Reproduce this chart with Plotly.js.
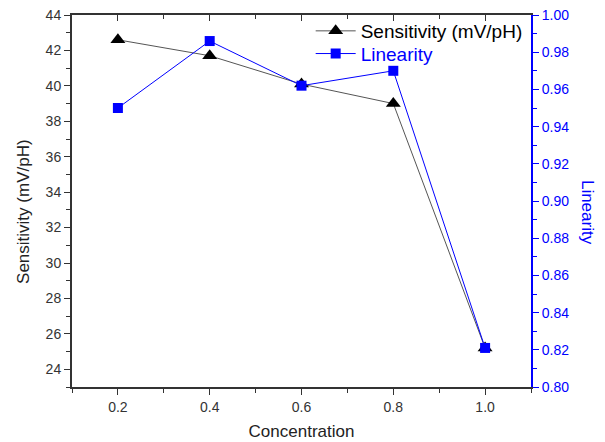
<!DOCTYPE html>
<html><head><meta charset="utf-8">
<script src="https://cdn.plot.ly/plotly-3.0.1.min.js"></script>
<style>body{margin:0;background:#fff}#chart{width:605px;height:442px}</style>
</head><body><div id="chart"></div>
<script>
const concentration = [0.2, 0.4, 0.6, 0.8, 1.0];
const sensitivity = [42.6, 41.7, 40.1, 39.0, 25.2];
const linearity = [0.950, 0.986, 0.962, 0.970, 0.821];
const xTicks = [0.2, 0.4, 0.6, 0.8, 1.0];
const xTickText = ['0.2', '0.4', '0.6', '0.8', '1.0'];

const font = 'Liberation Sans, Arial, sans-serif';
const traces = [
  {x: concentration, y: sensitivity, type: 'scatter', mode: 'lines+markers',
   name: 'Sensitivity (mV/pH)', line: {color: '#555555', width: 1},
   marker: {symbol: 'triangle-up', size: 13, color: '#000000'}, legend: 'legend'},
  {x: concentration, y: linearity, type: 'scatter', mode: 'lines+markers', yaxis: 'y2',
   name: 'Linearity', line: {color: '#0000ff', width: 1},
   marker: {symbol: 'square', size: 10, color: '#0000ff'}, legend: 'legend2'},
  {x: [], y: [], xaxis: 'x2', showlegend: false, hoverinfo: 'skip'}
];
const layout = {
  width: 605, height: 442,
  margin: {l: 72, r: 74, t: 13, b: 55},
  paper_bgcolor: '#fff', plot_bgcolor: '#fff',
  font: {family: font, size: 14, color: '#222'},
  showlegend: true,
  legend: {x: 0.52, y: 0.957, xanchor: 'left', yanchor: 'middle', bgcolor: 'rgba(0,0,0,0)',
    font: {size: 19, color: '#000'}, itemwidth: 40},
  legend2: {x: 0.52, y: 0.896, xanchor: 'left', yanchor: 'middle', bgcolor: 'rgba(0,0,0,0)',
    font: {size: 19, color: '#0000ff'}, itemwidth: 40},
  xaxis: {range: [0.1, 1.1], tickvals: xTicks, ticktext: xTickText, ticks: 'outside', ticklen: 6,
    tickcolor: '#333', showline: true, linecolor: '#333', linewidth: 2, showgrid: false, zeroline: false,
    minor: {dtick: 0.1, tick0: 0.1, ticks: 'outside', ticklen: 4, tickcolor: '#333'},
    tickfont: {size: 14, color: '#333'},
    title: {text: 'Concentration', font: {size: 17, color: '#222'}, standoff: 11}},
  xaxis2: {overlaying: 'x', side: 'top', range: [0.1, 1.1], tickvals: xTicks, showticklabels: false,
    ticks: 'inside', ticklen: 6, tickcolor: '#333', showline: true, linecolor: '#333', linewidth: 2,
    showgrid: false, zeroline: false,
    minor: {dtick: 0.1, tick0: 0.1, ticks: 'inside', ticklen: 4, tickcolor: '#333'}},
  yaxis: {range: [23, 44], dtick: 2, tick0: 24, ticks: 'outside', ticklen: 6, tickcolor: '#333',
    showline: true, linecolor: '#333', linewidth: 2, showgrid: false, zeroline: false,
    minor: {dtick: 1, ticks: 'outside', ticklen: 4, tickcolor: '#333'},
    tickfont: {size: 14, color: '#333'}},
  yaxis2: {overlaying: 'y', side: 'right', range: [0.80, 1.00], dtick: 0.02, tick0: 0.8,
    tickformat: '.2f', ticks: 'outside', ticklen: 6, tickcolor: '#0000ff',
    showline: true, linecolor: '#0000ff', linewidth: 2, showgrid: false, zeroline: false,
    minor: {dtick: 0.01, ticks: 'outside', ticklen: 4, tickcolor: '#0000ff'},
    tickfont: {size: 14, color: '#0000ff'}},
  annotations: [
    {text: 'Sensitivity (mV/pH)', textangle: -90, xref: 'paper', yref: 'paper', x: 0, y: 0.4706,
     xanchor: 'center', yanchor: 'middle',
     xshift: -48, showarrow: false, font: {size: 17, color: '#222', family: font}},
    {text: 'Linearity', textangle: 90, xref: 'paper', yref: 'paper', x: 1.0, y: 0.4706,
     xanchor: 'center', yanchor: 'middle',
     xshift: 56, showarrow: false, font: {size: 17, color: '#0000ff', family: font}}]
};
Plotly.newPlot('chart', traces, layout, {displayModeBar: false, staticPlot: true});
</script></body></html>
